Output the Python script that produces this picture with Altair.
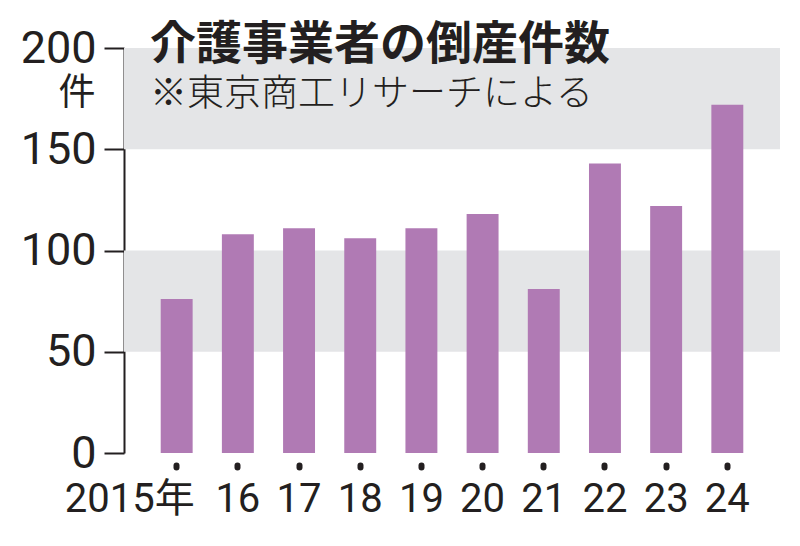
import altair as alt
import pandas as pd

years = ["2015年", "16", "17", "18", "19", "20", "21", "22", "23", "24"]
counts = [76, 108, 111, 106, 111, 118, 81, 143, 122, 172]
band_lo = [50, 150]
band_hi = [100, 200]
y_ticks = [0, 50, 100, 150, 200]
title_text = ["介護事業者の倒産件数"]
subtitle_text = ["※東京商工リサーチによる"]
unit_label = "件"

INK = "#231f20"
BAR = "#b07ab4"
BAND = "#e4e5e7"

df = pd.DataFrame({"year": years, "count": counts})
bands = pd.DataFrame({"lo": band_lo, "hi": band_hi})

yscale = alt.Scale(domain=[0, 200], nice=False)

band_layer = alt.Chart(bands).mark_rect(color=BAND).encode(
    y=alt.Y("lo:Q", scale=yscale,
            axis=alt.Axis(values=y_ticks, grid=False, domainColor=INK, domainWidth=2,
                          tickColor=INK, tickWidth=2, tickSize=20, labelPadding=8,
                          labelFont="Roboto", labelFontSize=45, labelColor=INK,
                          title=unit_label, titleAngle=0, titleAlign="right",
                          titleBaseline="middle", titleX=-29, titleY=45,
                          titleFont="Noto Sans CJK JP", titleFontSize=37,
                          titleFontWeight="normal", titleColor=INK)),
    y2="hi:Q",
)

first_label = years[0]
bars = alt.Chart(df).mark_bar(color=BAR).encode(
    x=alt.X("year:N", sort=years,
            scale=alt.Scale(paddingInner=0.478, paddingOuter=0.6),
            axis=alt.Axis(domain=False, tickColor=INK, tickCap="round", tickWidth=6,
                          tickSize=2, offset=12, labelAngle=0, labelPadding=12,
                          labelAlign={"expr": f"datum.value === '{first_label}' ? 'right' : 'center'"},
                          labelOffset={"expr": f"datum.value === '{first_label}' ? 18 : 0"},
                          labelFont="Roboto, Noto Sans CJK JP",
                          labelFontSize=40, labelColor=INK, title=None)),
    y=alt.Y("count:Q", scale=yscale),
)

title_layer = alt.Chart(pd.DataFrame({"t": title_text})).mark_text(
    align="left", baseline="middle", font="Noto Sans CJK JP", fontSize=46,
    fontWeight="bold", color=INK
).encode(text="t:N", x=alt.value(26), y=alt.value(-3))

subtitle_layer = alt.Chart(pd.DataFrame({"t": subtitle_text})).mark_text(
    align="left", baseline="middle", font="Noto Sans CJK JP Light, Noto Sans CJK JP",
    fontSize=37, fontWeight=300, color=INK
).encode(text="t:N", x=alt.value(26), y=alt.value(47))

chart = alt.layer(band_layer, bars, title_layer, subtitle_layer).properties(
    width=656, height=405,
    autosize=alt.AutoSizeParams(type="none"),
    padding={"left": 116, "top": 40, "right": 12, "bottom": 80},
).configure_view(strokeWidth=0)

chart.save("out.html", embed_options={"renderer": "svg", "actions": False})
